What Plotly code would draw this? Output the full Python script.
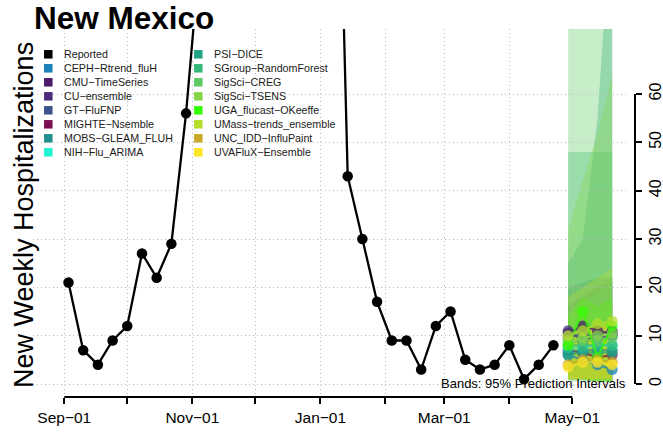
import plotly.graph_objects as go
import pandas as pd

# ---------------- data ----------------
reported_dates = pd.date_range("2022-09-03", "2023-04-22", freq="7D")
reported_values = [21, 7, 4, 9, 12, 27, 22, 29, 56, 91,
                   150, 200, 260, 280, 250, 230, 210, 190,
                   163, 43, 30, 17, 9, 9, 3, 12, 15, 5, 3, 4, 8, 1, 4, 8]

forecast_dates = ["2023-04-29", "2023-05-06", "2023-05-13", "2023-05-20"]

model_names = ["CEPH\u2212Rtrend_fluH", "CMU\u2212TimeSeries", "CU\u2212ensemble", "GT\u2212FluFNP",
               "MIGHTE\u2212Nsemble", "MOBS\u2212GLEAM_FLUH", "NIH\u2212Flu_ARIMA", "PSI\u2212DICE",
               "SGroup\u2212RandomForest", "SigSci\u2212CREG", "SigSci\u2212TSENS",
               "UGA_flucast\u2212OKeeffe", "UMass\u2212trends_ensemble", "UNC_IDD\u2212InfluPaint",
               "UVAFluX\u2212Ensemble"]
model_colors = ["#1a80bb", "#481a6c", "#472d7b", "#3b528b", "#7b0f52", "#21908c", "#22f2d4",
                "#20a386", "#35b779", "#5ec962", "#86d549", "#33ff00", "#b5de2b", "#c9a826",
                "#fde725"]
model_median = [[6, 5, 4, 3], [10.5, 12, 11, 10.5], [11, 9, 10, 11], [9.5, 10.5, 9.5, 10],
                [7, 6.5, 5.5, 6], [6.5, 7, 7, 7], [7.5, 7.5, 8, 8], [6, 6.5, 6.5, 6.5],
                [8, 8, 8, 8], [8.5, 9, 9, 9.5], [9, 9.5, 10, 10.5], [8, 15, 5.5, 12],
                [10, 11, 12.5, 13], [4, 5, 5, 4.5], [3.5, 4.5, 4.5, 4]]
model_lower = [[2, 1, 1, 0.5], [4, 4, 3, 3], [3, 2, 2, 2], [2, 1.5, 1, 1],
               [2, 1, 1, 1], [1, 1, 1, 0.5], [2, 2, 1, 1], [1, 1, 0.5, 0.5],
               [1, 1, 0.5, 0.5], [0.5, 0.5, 0.5, 0.5], [1, 1, 0.5, 0.5], [1, 1, 0.5, 0.5],
               [1, 1, 0.5, 0.5], [1, 1, 1, 1], [1, 1, 1, 1]]
model_upper = [[12, 13, 14, 14], [16, 18, 20, 21], [20, 21, 22, 22], [17, 18, 19, 20],
               [13, 14, 15, 16], [16, 18, 20, 22], [15, 17, 19, 21], [25, 30, 55, 100],
               [48, 48, 48, 48], [85, 100, 115, 130], [32, 42, 52, 64], [14, 18, 16, 18],
               [18, 20, 22, 24], [10, 11, 12, 12], [9, 11, 12, 13]]

month_ticks = ["2022-09-01", "2022-10-01", "2022-11-01", "2022-12-01", "2023-01-01",
               "2023-02-01", "2023-03-01", "2023-04-01", "2023-05-01"]
month_labels = ["Sep\u221201", "", "Nov\u221201", "", "Jan\u221201", "", "Mar\u221201", "", "May\u221201"]
y_ticks = [0, 10, 20, 30, 40, 50, 60]

legend_names = ["Reported"] + model_names
legend_colors = ["#000000"] + model_colors

# ---------------- layout constants (pixels) ----------------
W, H = 663, 432
ML, MR, MT, MB = 33, 28, 29, 35
PLOT_RIGHT = 628
FONT = "Liberation Sans, Arial, Helvetica, sans-serif"
GRID = dict(showgrid=True, gridcolor="#bdbdbd", griddash="1px,3px", gridwidth=1)


def rgba(hexcol, a):
    h = hexcol.lstrip("#")
    return "rgba(%d,%d,%d,%.3f)" % (int(h[0:2], 16), int(h[2:4], 16), int(h[4:6], 16), a)


fig = go.Figure()

# prediction bands: filled polygons in data coordinates, drawn beneath the grid
for name, col, lo, hi in zip(model_names, model_colors, model_lower, model_upper):
    xs = forecast_dates + forecast_dates[::-1]
    ys = hi + lo[::-1]
    path = "M " + " L ".join("%s,%s" % (x, y) for x, y in zip(xs, ys)) + " Z"
    fig.add_shape(type="path", xref="x", yref="y", path=path, layer="below",
                  fillcolor=rgba(col, 0.34), line=dict(width=0))

# reported
fig.add_trace(go.Scatter(
    x=reported_dates, y=reported_values, mode="lines+markers",
    line=dict(color="black", width=2.3), marker=dict(color="black", size=10.5),
    showlegend=False))

# medians
for name, col, med in zip(model_names, model_colors, model_median):
    fig.add_trace(go.Scatter(
        x=forecast_dates, y=med, mode="lines+markers", opacity=0.75,
        line=dict(color=col, width=2), marker=dict(color=col, size=11),
        showlegend=False, name=name))

# custom two-column legend drawn on an identity pixel axis
n_per_col = 8
leg_x_sq = [48.3, 198.3]
leg_x_tx = [61.5, 211.5]
leg_y0, leg_dy = 54.3, 14.0
sq_x = [leg_x_sq[i // n_per_col] for i in range(len(legend_names))]
sq_y = [leg_y0 + leg_dy * (i % n_per_col) for i in range(len(legend_names))]
fig.add_trace(go.Scatter(
    x=sq_x, y=sq_y, xaxis="x2", yaxis="y2", mode="markers",
    marker=dict(symbol="square", size=8.5, color=legend_colors, line=dict(width=0)),
    hoverinfo="skip", showlegend=False, cliponaxis=False))
for i, nm in enumerate(legend_names):
    fig.add_annotation(x=leg_x_tx[i // n_per_col], y=sq_y[i], xref="x2", yref="y2",
                       text=nm, showarrow=False, xanchor="left", yanchor="middle",
                       font=dict(family=FONT, size=10.7, color="#1a1a1a"))

# axis lines (R style: only between first and last tick)
fig.add_shape(type="line", xref="x", yref="paper", x0=month_ticks[0], x1=month_ticks[-1],
              y0=0, y1=0, line=dict(color="black", width=2))
fig.add_shape(type="line", xref="paper", yref="y", x0=1, x1=1, y0=y_ticks[0], y1=y_ticks[-1],
              line=dict(color="black", width=2))

PW, PH = W - ML - MR, H - MT - MB
# texts
fig.add_annotation(text="<b>New Mexico</b>", xref="paper", yref="paper",
                   x=(32 - ML) / PW, y=(H - MB - 18) / PH,
                   xanchor="left", yanchor="middle", showarrow=False,
                   font=dict(family=FONT, size=31.5, color="black"))
fig.add_annotation(text="New Weekly Hospitalizations", xref="paper", yref="paper",
                   x=(24 - ML) / PW, y=(H - MB - 215) / PH,
                   xanchor="center", yanchor="middle", textangle=-90, showarrow=False,
                   font=dict(family=FONT, size=27, color="black"))
fig.add_annotation(text="Bands: 95% Prediction Intervals", xref="paper", yref="paper",
                   x=(PLOT_RIGHT - ML) / PW, y=(H - MB - 383) / PH,
                   xanchor="right", yanchor="middle", showarrow=False,
                   font=dict(family=FONT, size=13, color="black"))

xdom_end = (PLOT_RIGHT - ML) / PW
fig.update_layout(
    width=W, height=H, margin=dict(l=ML, r=MR, t=MT, b=MB, autoexpand=False),
    paper_bgcolor="white", plot_bgcolor="white", showlegend=False,
    font=dict(family=FONT, color="black"),
    xaxis=dict(type="date", domain=[0, xdom_end], automargin=False,
               range=["2022-08-17 02:10", "2023-05-27 12:45"],
               tickmode="array", tickvals=month_ticks, ticktext=month_labels,
               ticks="outside", ticklen=6, tickwidth=1.5, tickcolor="black",
               tickfont=dict(family=FONT, size=15.5, color="black"),
               showline=False, zeroline=False, **GRID),
    yaxis=dict(range=[-2.69, 73.45], side="right", anchor="free", position=1, automargin=False,
               tickmode="array", tickvals=y_ticks,
               ticks="outside", ticklen=6, tickwidth=1.5, tickcolor="black",
               tickangle=-90, tickfont=dict(family=FONT, size=16, color="black"),
               showline=False, zeroline=False, **GRID),
    xaxis2=dict(overlaying="x", range=[ML, PLOT_RIGHT], visible=False, anchor="y2"),
    yaxis2=dict(overlaying="y", range=[H - MB, MT], visible=False, anchor="x2"),
)

fig.write_html("out.html", config={"displayModeBar": False},
               post_script="document.body.style.margin='0';document.body.style.overflow='hidden';")
